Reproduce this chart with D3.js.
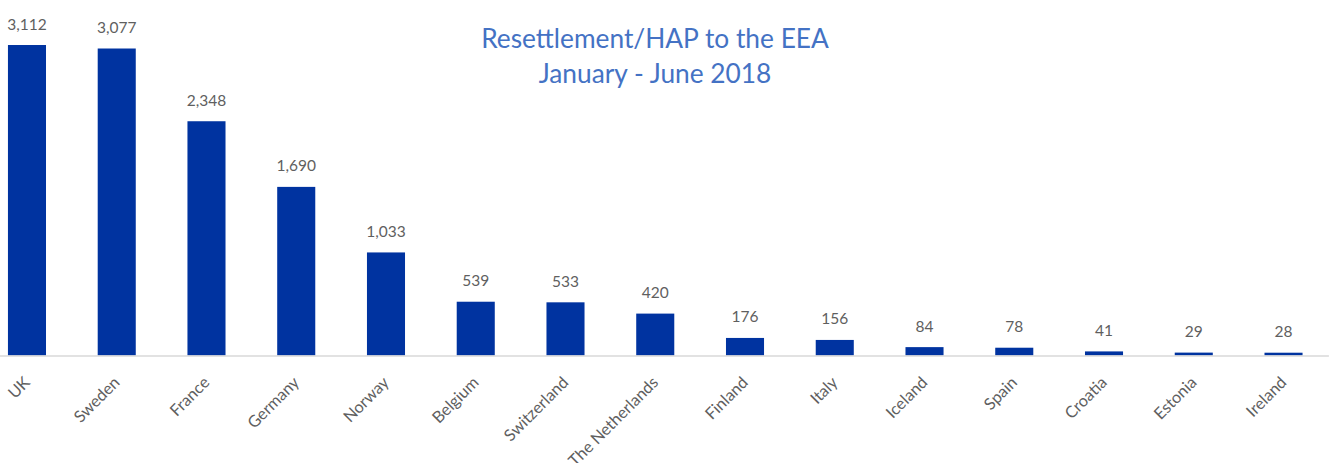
<!DOCTYPE html>
<html>
<head>
<meta charset="utf-8">
<script src="https://cdn.jsdelivr.net/npm/d3@7"></script>
<style>
  html, body { margin: 0; padding: 0; background: #fff; }
  svg { display: block; }
</style>
</head>
<body>
<svg id="chart" width="1339" height="463"></svg>
<script>
const categories = ["UK", "Sweden", "France", "Germany", "Norway", "Belgium", "Switzerland", "The Netherlands", "Finland", "Italy", "Iceland", "Spain", "Croatia", "Estonia", "Ireland"];
const values = [3112, 3077, 2348, 1690, 1033, 539, 533, 420, 176, 156, 84, 78, 41, 29, 28];
const titleLines = ["Resettlement/HAP to the EEA", "January - June 2018"];

const svg = d3.select("#chart");
const font = "Lato, 'Open Sans', sans-serif";

const x = d3.scaleBand()
  .domain(categories)
  .range([-17.9, 1328.4])
  .paddingInner(0.576)
  .paddingOuter(0.288);

const y = d3.scaleLinear()
  .domain([0, 3500])
  .range([355.5, 6.3]);

// bars
svg.append("g").selectAll("rect")
  .data(categories)
  .join("rect")
  .attr("x", (d) => x(d))
  .attr("width", x.bandwidth())
  .attr("y", (d, i) => y(values[i]))
  .attr("height", (d, i) => y(0) - y(values[i]))
  .attr("fill", "#0033a0");

// axis
const axis = svg.append("g")
  .attr("transform", `translate(0,${y(0)})`)
  .call(d3.axisBottom(x).tickSize(0).tickPadding(0));
axis.select(".domain").attr("stroke", "#d9d9d9").attr("stroke-width", 1.5);
axis.selectAll(".tick text")
  .attr("font-family", font)
  .attr("font-size", 16.3)
  .attr("fill", "#5f5f5f")
  .attr("text-anchor", "end")
  .attr("dy", 0)
  .attr("transform", "translate(4,28) rotate(-45)");

// value labels
svg.append("g").selectAll("text")
  .data(categories)
  .join("text")
  .attr("x", (d) => x(d) + x.bandwidth() / 2)
  .attr("y", (d, i) => y(values[i]) - 15.5)
  .attr("text-anchor", "middle")
  .attr("font-family", font)
  .attr("font-size", 15.5)
  .attr("fill", "#5f5f5f")
  .text((d, i) => d3.format(",")(values[i]));

// title
svg.append("g").selectAll("text")
  .data(titleLines)
  .join("text")
  .attr("x", 655)
  .attr("y", (d, i) => 48 + i * 35)
  .attr("text-anchor", "middle")
  .attr("font-family", font)
  .attr("font-size", 26.3)
  .attr("fill", "#4472c4")
  .text((d) => d);
</script>
</body>
</html>
